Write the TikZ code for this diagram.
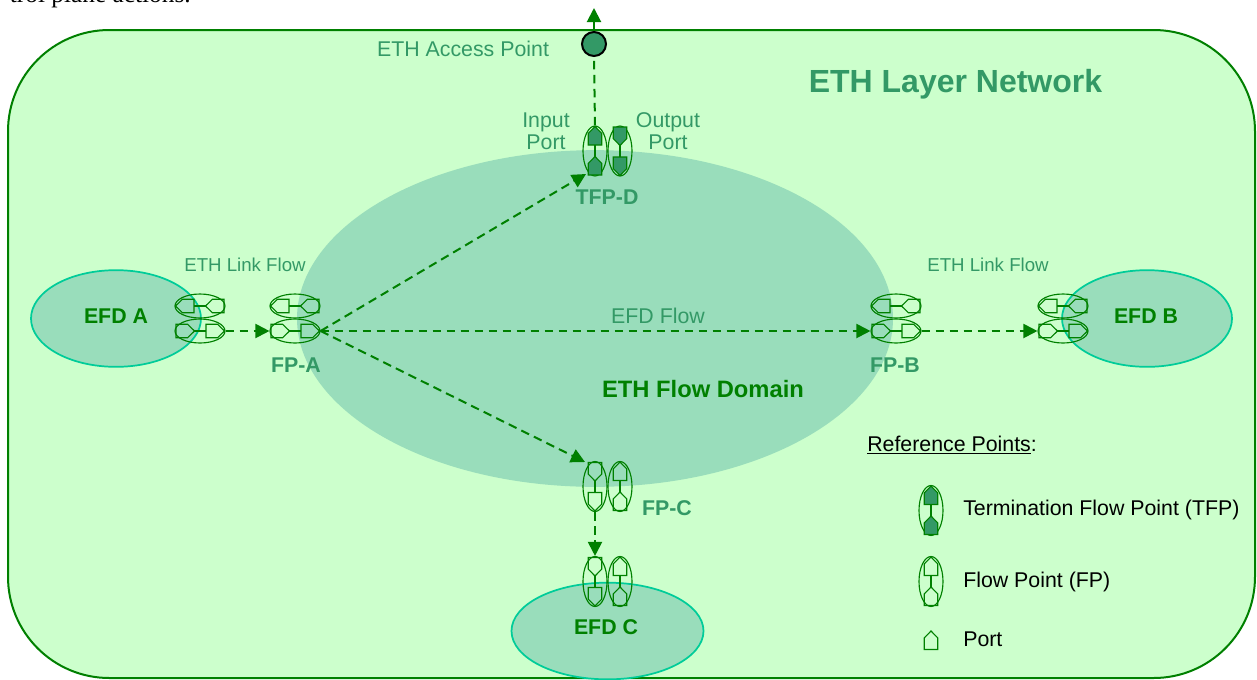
\documentclass[tikz,border=0pt]{standalone}
\usepackage{fontspec}
\setmainfont{Liberation Sans}
\newfontfamily\serifface{Liberation Serif}
\usetikzlibrary{shapes.geometric,arrows.meta}
\definecolor{layerfill}{HTML}{CCFFCC}
\definecolor{linegreen}{HTML}{008000}
\definecolor{domainfill}{HTML}{99DDBB}
\definecolor{labelgreen}{HTML}{339966}
\definecolor{efdedge}{HTML}{00CC99}
\tikzset{
  flowarrow/.style={draw=linegreen,line width=1.5pt,dash pattern=on 6.5pt off 4pt,
    -{Triangle[length=10.5pt,width=10.5pt,fill=linegreen]}},
  efdshape/.style={ellipse,draw=efdedge,fill=domainfill,line width=1.3pt,inner sep=0pt},
  fphshape/.style={ellipse,draw=linegreen,line width=.85pt,inner sep=0pt,minimum width=37.5pt,minimum height=18pt},
  fpvshape/.style={ellipse,draw=linegreen,line width=.85pt,inner sep=0pt,minimum width=18pt,minimum height=37.5pt},
  portline/.style={draw=linegreen,line width=.85pt},
  openport/.style={portline},
  solidport/.style={portline,fill=labelgreen},
  textsmall/.style={text=labelgreen,inner sep=0pt,font=\fontsize{14}{16}\selectfont},
  textlabel/.style={text=labelgreen,inner sep=0pt,align=center,font=\fontsize{16}{16.5}\selectfont},
  textbold/.style={text=labelgreen,inner sep=0pt,font=\fontsize{16}{18}\selectfont\bfseries},
  textefd/.style={text=linegreen,inner sep=0pt,font=\fontsize{16}{18}\selectfont\bfseries},
  textlegend/.style={text=black,inner sep=0pt,anchor=west,font=\fontsize{16}{18}\selectfont},
}
% centre x, centre y, angle, style
\newcommand{\portshape}[4]{%
  \draw[#4,shift={(#1,#2)},rotate=#3] (-9,-6.8) -- (2.5,-6.8) -- (9.5,0) -- (2.5,6.8) -- (-9,6.8) -- cycle;}
% name, x, y, angle (horizontal pair)
\newcommand{\fphpair}[4]{%
  \node[fphshape] (#1) at (#2,#3) {};
  \draw[portline] ([xshift=-4.5pt]#1.center) -- ([xshift=4.5pt]#1.center);
  \portshape{#2-15}{#3}{#4}{openport}
  \portshape{#2+15}{#3}{#4}{openport}}
% name, x, y, angle, port style (vertical pair)
\newcommand{\fpvpair}[5]{%
  \node[fpvshape] (#1) at (#2,#3) {};
  \draw[portline] ([yshift=-4.5pt]#1.center) -- ([yshift=4.5pt]#1.center);
  \portshape{#2}{#3-15}{#4}{#5}
  \portshape{#2}{#3+15}{#4}{#5}}
\begin{document}
\begin{tikzpicture}[x=.75pt,y=-.75pt]
\useasboundingbox (0,0) rectangle (1257,679);
\clip (0,0) rectangle (1257,679);
\fill[white] (0,0) rectangle (1257,679);
% clipped line of text above the figure
\node[anchor=base east,inner sep=0pt,text=black,font=\fontsize{19}{21}\serifface] (toptext) at (191,2) {trol plane actions.};
% layer network
\path[draw=linegreen,fill=layerfill,line width=1.5pt,rounded corners=76pt] (8,30) rectangle (1255,678);
\node[ellipse,fill=domainfill,inner sep=0pt,minimum width=447pt,minimum height=252.5pt] (domain) at (595,318.5) {};
\node[efdshape,minimum width=127.5pt,minimum height=72.5pt] (efda) at (116,318.5) {};
\node[efdshape,minimum width=127.5pt,minimum height=72.5pt] (efdb) at (1147,318.5) {};
\node[efdshape,minimum width=144pt,minimum height=72.5pt] (efdc) at (607.5,631) {};
% texts
\node[text=labelgreen,inner sep=0pt,font=\fontsize{24}{26}\selectfont\bfseries] (layername) at (955.5,84) {ETH Layer Network};
\node[textlabel] (aplabel) at (463,49) {ETH Access Point};
\node[textlabel] (inlabel) at (546,131) {Input\\Port};
\node[textlabel] (outlabel) at (668,131) {Output\\Port};
\node[textbold] (tfpdlabel) at (607,197) {TFP-D};
\node[textsmall] (linkl) at (245,265) {ETH Link Flow};
\node[textsmall] (linkr) at (988,265) {ETH Link Flow};
\node[textlabel] (flowlabel) at (658,316) {EFD Flow};
\node[textefd] (efdalabel) at (116,316) {EFD A};
\node[textefd] (efdblabel) at (1146,316) {EFD B};
\node[textefd] (efdclabel) at (606,627) {EFD C};
\node[textbold] (fpalabel) at (296,365) {FP-A};
\node[textbold] (fpblabel) at (895,365) {FP-B};
\node[textbold] (fpclabel) at (667,508) {FP-C};
\node[text=linegreen,inner sep=0pt,font=\fontsize{17.8}{20}\selectfont\bfseries] (domainlabel) at (703,389) {ETH Flow Domain};
% flow point groups
\fphpair{ga}{200}{306}{180}
\fphpair{gb}{200}{331}{0}
\fphpair{fa}{295}{306}{180}
\fphpair{fb}{295}{331}{0}
\fphpair{fc}{896}{306}{180}
\fphpair{fd}{896}{331}{0}
\fphpair{ge}{1063}{306}{180}
\fphpair{gf}{1063}{331}{0}
\fpvpair{tl}{595}{151}{90}{solidport}
\fpvpair{tr}{620}{151}{-90}{solidport}
\fpvpair{cl}{595}{486.5}{-90}{openport}
\fpvpair{cr}{620}{486.5}{90}{openport}
\fpvpair{dl}{595}{581.5}{-90}{openport}
\fpvpair{dr}{620}{581.5}{90}{openport}
% access point
\node[circle,draw=black,fill=labelgreen,line width=1.5pt,inner sep=0pt,minimum size=18pt] (ap) at (594,44) {};
\coordinate (apout) at (594,8);
\coordinate (tfpin) at (586,174);
\coordinate (fcin) at (585,462);
% connectors
\draw[flowarrow] (ap.north) -- (apout);
\draw[flowarrow,-] (tl.north) -- (ap.south);
\draw[flowarrow] (gb.east) -- (fb.west);
\draw[flowarrow] (fb.east) -- (fd.west);
\draw[flowarrow] (fd.east) -- (gf.west);
\draw[flowarrow] (fb.east) -- (tfpin);
\draw[flowarrow] (fb.east) -- (fcin);
\draw[flowarrow] (cl.south) -- (dl.north);
% legend
\node[inner sep=0pt,anchor=west,text=black,font=\fontsize{16}{18}\selectfont] (reflabel) at (867,445) {\underline{Reference Points}:};
\fpvpair{lt}{931}{510.5}{90}{solidport}
\fpvpair{lf}{931}{581.5}{90}{openport}
\portshape{931}{640.5}{90}{openport}
\node[textlegend] (ltlabel) at (963,510) {Termination Flow Point (TFP)};
\node[textlegend] (lflabel) at (963,582) {Flow Point (FP)};
\node[textlegend] (lplabel) at (963,639) {Port};
\end{tikzpicture}
\end{document}
